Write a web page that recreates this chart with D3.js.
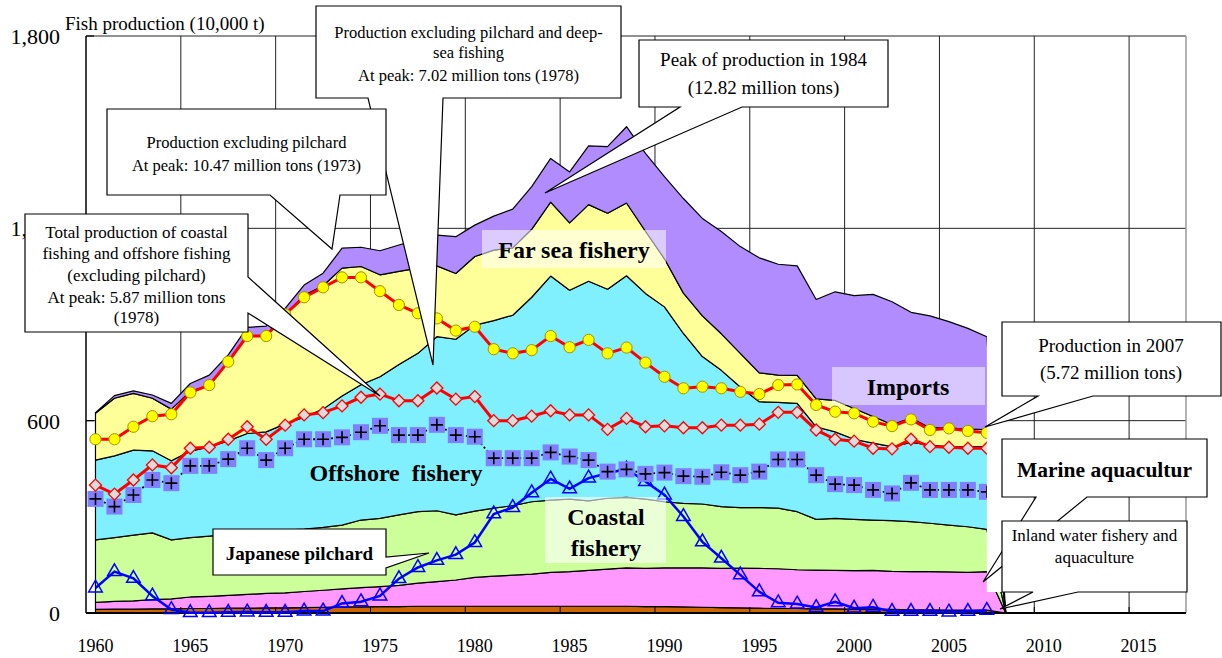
<!DOCTYPE html>
<html>
<head>
<meta charset="utf-8">
<script src="https://cdn.jsdelivr.net/npm/d3@7"></script>
<style>
body { margin: 0; background: #fff; }
svg { display: block; font-family: "Liberation Serif", "Times New Roman", serif; }
</style>
</head>
<body>
<div id="chart-area"></div>
<script>
// values in 10,000 t, one per year 1960-2007
var years = d3.range(1960, 2008);
var tickYears = [1960, 1965, 1970, 1975, 1980, 1985, 1990, 1995, 2000, 2005, 2010, 2015];
var yTicks = [0, 600, 1200, 1800];
var yTickLabels = ["0", "600", "1,200", "1,800"];

var inland = [11,12,12,13,13,14,14,15,15,16, 16,17,18,19,19,20,20,21,21,21,
	21,21,21,21,21,21,21,21,21,20, 20,19,18,17,16,15,14,14,13,13, 12,12,11,10,10,9,9,9];
var marine = [22,24,26,29,31,36,38,40,43,45, 47,50,53,56,60,62,66,72,77,82,
	90,94,97,100,106,108,112,116,120,119, 121,122,123,122,124,124,124,121,121,120,
	120,121,119,119,119,119,118,120];
var coastal = [195,199,205,208,184,185,188,191,196,192, 196,195,196,199,211,213,220,223,221,203,
	207,212,217,226,225,226,217,221,220,216, 206,201,199,193,189,190,189,181,158,162,
	160,157,158,156,151,146,142,132];
var offshore = [249,255,265,256,247,270,278,291,306,312, 331,349,369,403,422,442,469,494,543,548,
	580,585,594,638,699,652,685,652,691,642, 608,530,460,425,376,330,330,338,289,270,
	250,240,231,247,244,245,250,258];
var farSea = [146,180,177,164,161,186,192,248,307,297, 342,380,385,399,369,318,291,266,221,205,
	214,220,210,212,231,210,239,237,227,194, 150,126,127,114,105,90,85,87,87,98,
	96,83,69,76,54,58,55,53];
var imports = [2,8,8,10,18,25,32,20,24,33, 18,32,39,62,60,75,82,89,96,115,
	98,106,121,133,136,159,183,208,238,243, 256,295,304,319,333,359,346,342,310,339,
	352,381,383,330,349,332,314,290];

// line series
var exclPilchard = [542,542,581,614,620,688,711,784,864,864, 932,985,1016,1047,1047,1004,961,935,919,881,
	893,823,810,820,864,829,852,810,828,781, 737,701,706,701,690,683,711,713,649,628,
	623,597,583,604,571,576,568,562];
var exclPilchardFarSea = [399,371,415,462,453,514,517,542,581,542, 586,618,625,646,673,683,662,662,702,667,
	675,600,600,614,631,618,618,573,607,581, 584,578,578,586,586,589,626,626,571,542,
	536,514,512,542,519,517,514,514];
var coastOffExcl = [356,332,368,415,405,459,459,480,514,477, 514,542,542,548,564,584,555,555,587,555,
	550,483,483,483,501,488,477,441,448,434, 438,427,425,439,430,441,479,479,430,402,
	399,384,373,406,384,384,384,378];
var pilchard = [78,129,108,53,11,1,1,2,3,2, 2,6,6,30,35,53,107,142,164,182,
	220,309,329,375,418,387,421,436,449,410, 368,301,222,171,119,66,32,28,17,35,
	15,18,5,5,5,3,5,8];

var keys = ["inland", "marine", "coastal", "offshore", "farSea", "imports"];
var colors = {inland: "#CC6600", marine: "#FF99FF", coastal: "#CCFF99",
	offshore: "#80F0FF", farSea: "#FFFF99", imports: "#B18CFF"};

var margins = {top: 36, bottom: 45, left: 86, right: 36};
var W = 1222, H = 658;
var width = W - margins.left - margins.right;
var height = H - margins.top - margins.bottom;

var svg = d3.select("#chart-area")
	.append("svg")
		.attr("width", W)
		.attr("height", H);

var g = svg.append("g")
	.attr("transform", `translate(${margins.left}, ${margins.top})`);

var x = d3.scaleBand()
	.domain(d3.range(1960, 2018))
	.range([0, width]);
var bw = x.bandwidth();
function xc(yr) { return x(yr) + bw / 2; }

var y = d3.scaleLinear()
	.domain([0, 1800])
	.range([height, 0]);

// grid
g.selectAll(".hgrid").data(yTicks.slice(1)).enter().append("line")
	.attr("x1", 0).attr("x2", width)
	.attr("y1", d => y(d)).attr("y2", d => y(d))
	.attr("stroke", "#222").attr("stroke-width", 1);
g.selectAll(".vgrid").data(tickYears.slice(1)).enter().append("line")
	.attr("x1", d => x(d)).attr("x2", d => x(d))
	.attr("y1", 0).attr("y2", height)
	.attr("stroke", "#222").attr("stroke-width", 1);
g.append("line")
	.attr("x1", width).attr("x2", width).attr("y1", 0).attr("y2", height)
	.attr("stroke", "#999").attr("stroke-width", 1.5);

// stacked areas (2008 drops to zero)
var table = years.map(function(yr, i) {
	return {year: yr, inland: inland[i], marine: marine[i], coastal: coastal[i],
		offshore: offshore[i], farSea: farSea[i], imports: imports[i]};
});
table.push({year: 2008, inland: 0, marine: 0, coastal: 0, offshore: 0, farSea: 0, imports: 0});

var series = d3.stack().keys(keys)(table);
var area = d3.area()
	.x(d => xc(d.data.year))
	.y0(d => y(d[0]))
	.y1(d => y(d[1]));

g.selectAll(".layer").data(series).enter().append("path")
	.attr("d", area)
	.attr("fill", d => colors[d.key])
	.attr("stroke", "#000")
	.attr("stroke-width", 1.2)
	.attr("stroke-linejoin", "round");

// white strip right of 2007
svg.append("rect")
	.attr("x", margins.left + xc(2007)).attr("y", 300)
	.attr("width", 1002 - margins.left - xc(2007)).attr("height", 292)
	.attr("fill", "#fff");

// bottom axis
g.append("line")
	.attr("x1", 0).attr("x2", width).attr("y1", height).attr("y2", height)
	.attr("stroke", "#000").attr("stroke-width", 2);
g.selectAll(".xtick").data(tickYears.slice(1)).enter().append("line")
	.attr("x1", d => x(d)).attr("x2", d => x(d))
	.attr("y1", height).attr("y2", height - 6)
	.attr("stroke", "#000").attr("stroke-width", 1);
g.selectAll(".xlabel").data(tickYears).enter().append("text")
	.attr("x", d => xc(d))
	.attr("y", height + 39)
	.attr("text-anchor", "middle")
	.attr("font-size", "18px")
	.text(d => d);

// left axis
g.append("line")
	.attr("x1", 0).attr("x2", 0).attr("y1", 0).attr("y2", height)
	.attr("stroke", "#000").attr("stroke-width", 1.5);
g.selectAll(".ytick").data(yTicks).enter().append("line")
	.attr("x1", 0).attr("x2", 8)
	.attr("y1", d => y(d)).attr("y2", d => y(d))
	.attr("stroke", "#000").attr("stroke-width", 1.2);
g.selectAll(".ylabel").data(yTicks).enter().append("text")
	.attr("x", -26)
	.attr("y", d => y(d))
	.attr("dy", "0.36em")
	.attr("text-anchor", "end")
	.attr("font-size", "22px")
	.text((d, i) => yTickLabels[i]);

svg.append("text")
	.attr("x", 65).attr("y", 30)
	.attr("font-size", "19px")
	.text("Fish production (10,000 t)");

// line series
function lineOf(vals) {
	return d3.line()
		.x((d, i) => xc(years[i]))
		.y(d => y(d))(vals);
}

// pilchard: blue triangles
g.append("path").attr("d", lineOf(pilchard))
	.attr("fill", "none").attr("stroke", "#0000FF").attr("stroke-width", 2.5);
g.selectAll(".tri").data(pilchard).enter().append("path")
	.attr("d", d3.symbol(d3.symbolTriangle, 80))
	.attr("transform", (d, i) => `translate(${xc(years[i])}, ${y(d)})`)
	.attr("fill", "none").attr("stroke", "#0000FF").attr("stroke-width", 1.5);

// coastal + offshore excl. pilchard: squares with plus
g.append("path").attr("d", lineOf(coastOffExcl))
	.attr("fill", "none").attr("stroke", "#000").attr("stroke-width", 1.8)
	.attr("stroke-dasharray", "2,2.5");
var sq = g.selectAll(".sq").data(coastOffExcl).enter().append("g")
	.attr("transform", (d, i) => `translate(${xc(years[i])}, ${y(d)})`);
sq.append("rect")
	.attr("x", -8).attr("y", -8).attr("width", 16).attr("height", 16)
	.attr("fill", "#8080FF");
sq.append("path")
	.attr("d", "M-6,0H6M0,-6V6")
	.attr("stroke", "#000").attr("stroke-width", 1.6);

// excl. pilchard and far sea: diamonds
g.append("path").attr("d", lineOf(exclPilchardFarSea))
	.attr("fill", "none").attr("stroke", "#FF0000").attr("stroke-width", 3);
g.selectAll(".dia").data(exclPilchardFarSea).enter().append("path")
	.attr("d", d3.symbol(d3.symbolSquare, 72))
	.attr("transform", (d, i) => `translate(${xc(years[i])}, ${y(d)}) rotate(45)`)
	.attr("fill", "#DCDCDC").attr("stroke", "#FF0000").attr("stroke-width", 1.3);

// excl. pilchard: yellow circles
g.append("path").attr("d", lineOf(exclPilchard))
	.attr("fill", "none").attr("stroke", "#FF0000").attr("stroke-width", 3);
g.selectAll(".cir").data(exclPilchard).enter().append("circle")
	.attr("cx", (d, i) => xc(years[i]))
	.attr("cy", d => y(d))
	.attr("r", 5.6)
	.attr("fill", "#FFFF00").attr("stroke", "#A09000").attr("stroke-width", 1);

// area labels with light boxes
function areaLabel(box, op, lines, ys, cx) {
	if (box) {
		svg.append("rect")
			.attr("x", box[0]).attr("y", box[1])
			.attr("width", box[2] - box[0]).attr("height", box[3] - box[1])
			.attr("fill", "#fff").attr("fill-opacity", op);
	}
	lines.forEach(function(t, i) {
		svg.append("text")
			.attr("x", cx).attr("y", ys[i])
			.attr("text-anchor", "middle")
			.attr("font-size", "24px")
			.attr("font-weight", "bold")
			.style("white-space", "pre")
			.text(t);
	});
}
areaLabel([482, 230, 666, 268], 0.55, ["Far sea fishery"], [258], 574);
areaLabel([832, 367, 985, 405], 0.5, ["Imports"], [395], 908);
areaLabel([545, 497, 666, 563], 0.6, ["Coastal", "fishery"], [525, 556], 606);
areaLabel(null, 0, ["Offshore  fishery"], [481], 396);

// callouts
function callout(c) {
	var b = c.box, p;
	if (c.side === "bottom") {
		p = [[b[0], b[1]], [b[2], b[1]], [b[2], b[3]], [c.base[1], b[3]], c.tip, [c.base[0], b[3]], [b[0], b[3]]];
	} else {
		p = [[b[0], b[1]], [b[2], b[1]], [b[2], c.base[0]], c.tip, [b[2], c.base[1]], [b[2], b[3]], [b[0], b[3]]];
	}
	svg.append("path")
		.attr("d", "M" + p.join("L") + "Z")
		.attr("fill", "#fff").attr("stroke", "#000").attr("stroke-width", 1.2);
	var cx = c.cx != null ? c.cx : (b[0] + b[2]) / 2;
	c.lines.forEach(function(t, i) {
		svg.append("text")
			.attr("x", cx).attr("y", c.ys[i])
			.attr("text-anchor", "middle")
			.attr("font-size", c.size + "px")
			.attr("font-weight", c.bold ? "bold" : "normal")
			.text(t);
	});
}

callout({box: [316, 6, 621, 98], side: "bottom", base: [368, 443], tip: [433, 365], size: 16.5,
	lines: ["Production excluding pilchard and deep-", "sea fishing", "At peak: 7.02 million tons (1978)"],
	ys: [38, 58, 81]});
callout({box: [107, 109, 386, 195], side: "bottom", base: [270, 340], tip: [332, 249], size: 16.5,
	lines: ["Production excluding pilchard", "At peak: 10.47 million tons (1973)"],
	ys: [148, 171]});
callout({box: [25, 214, 248, 332], side: "right", base: [277, 313], tip: [380, 396], size: 17,
	lines: ["Total production of coastal", "fishing and offshore fishing", "(excluding pilchard)",
		"At peak: 5.87 million tons", "(1978)"],
	ys: [238, 259, 281, 303, 323]});
callout({box: [639, 40, 888, 107], side: "bottom", base: [680, 742], tip: [545, 193], size: 19,
	lines: ["Peak of production in 1984", "(12.82 million tons)"],
	ys: [66, 94]});
callout({box: [1002, 322, 1221, 396], side: "bottom", base: [1038, 1093], tip: [985, 427], size: 19,
	cx: 1111, lines: ["Production in 2007", "(5.72 million tons)"],
	ys: [352, 379]});
callout({box: [1002, 439, 1207, 497], side: "bottom", base: [1036, 1087], tip: [983, 582], size: 21.5,
	bold: true, lines: ["Marine aquacultur"], ys: [477]});
callout({box: [1002, 521, 1187, 592], side: "bottom", base: [1033, 1078], tip: [1000, 609], size: 17,
	lines: ["Inland water fishery and", "aquaculture"], ys: [541, 563]});
callout({box: [213, 529, 386, 575], side: "right", base: [557, 568], tip: [429, 553], size: 19,
	bold: true, lines: ["Japanese pilchard"], ys: [560]});
</script>
</body>
</html>
